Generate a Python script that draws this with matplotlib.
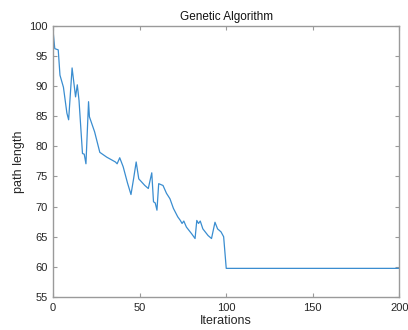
import numpy as np
import matplotlib.pyplot as plt

# best path length per GA iteration (turning points of the convergence curve)
iterations = [0, 1, 3, 4, 6, 8, 9, 11, 13, 14, 15, 17, 18, 19, 20.5, 21, 24,
              27, 31, 36, 37, 38.5, 40.5, 43, 45, 46.5, 48, 49.5, 53, 55,
              57, 58, 59, 60, 61, 63.5, 65.5, 67.5, 69.5, 72, 73.5, 74.5,
              75.5, 77, 80, 82, 83, 84, 85, 86.5, 89.5, 91.5, 93.5, 95, 97,
              98.5, 100, 200]
lengths = [99.2, 96.2, 96.0, 91.8, 89.8, 85.5, 84.4, 93.0, 88.2, 90.2, 87.6,
           78.8, 78.7, 77.1, 87.4, 84.9, 82.4, 79.0, 78.2, 77.4, 77.1, 78.1,
           76.6, 73.9, 72.0, 74.6, 77.4, 74.6, 73.5, 73.0, 75.6, 70.8, 70.6,
           69.4, 73.8, 73.5, 72.2, 71.3, 69.7, 68.3, 67.7, 67.2, 67.6, 66.6,
           65.5, 64.7, 67.7, 67.2, 67.6, 66.3, 65.2, 64.7, 67.4, 66.3, 65.8,
           65.0, 59.75, 59.75]

xticks = [0, 50, 100, 150, 200]
yticks = [55, 60, 65, 70, 75, 80, 85, 90, 95, 100]

plt.rcParams['font.family'] = ['Liberation Sans', 'DejaVu Sans']

fig = plt.figure(figsize=(4.08, 3.30), dpi=100)
ax = fig.add_axes([0.130, 0.100, 0.849, 0.822])

ax.plot(iterations, lengths, color='#3a8dd0', linewidth=0.9)

ax.set_xlim(0, 200)
ax.set_ylim(55, 100)
ax.set_xticks(xticks)
ax.set_yticks(yticks)

axis_grey = '#9a9a9a'
text_col = '#262626'
for s in ax.spines.values():
    s.set_color(axis_grey)
    s.set_linewidth(1.0)
ax.tick_params(direction='in', length=3, width=0.8, color=axis_grey,
               labelsize=8, labelcolor=text_col, top=True, right=True, pad=4)

ax.set_title('Genetic Algorithm', fontsize=8.5, color='#111111', pad=4)
ax.set_xlabel('Iterations', fontsize=9, color=text_col, labelpad=2)
ax.set_ylabel('path length', fontsize=9, color=text_col, labelpad=3)

fig.savefig('out.png', dpi=100)
